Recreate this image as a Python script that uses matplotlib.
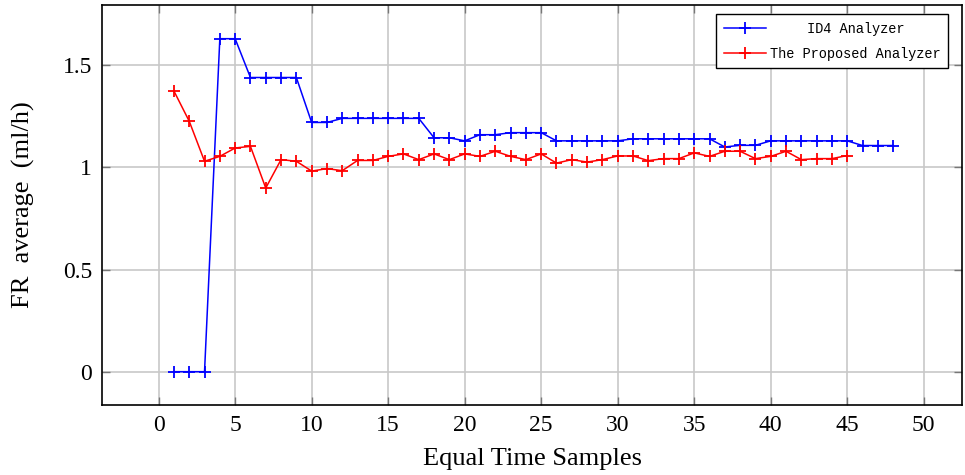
import matplotlib.pyplot as plt
import matplotlib.transforms as mtransforms

# Sample indices and the two analyzer series
id4_x = list(range(1, 49))
id4_y = [0, 0, 0, 1.63, 1.63, 1.44, 1.44, 1.44, 1.44, 1.22,
         1.22, 1.24, 1.24, 1.24, 1.24, 1.24, 1.24, 1.145, 1.145, 1.13,
         1.16, 1.16, 1.17, 1.17, 1.17, 1.13, 1.13, 1.13, 1.13, 1.13,
         1.14, 1.14, 1.14, 1.14, 1.14, 1.14, 1.10, 1.108, 1.108, 1.13,
         1.13, 1.13, 1.13, 1.13, 1.13, 1.107, 1.107, 1.107]

prop_x = list(range(1, 46))
prop_y = [1.374, 1.226, 1.03, 1.054, 1.095, 1.103, 0.899, 1.038, 1.03, 0.982,
          0.994, 0.984, 1.034, 1.034, 1.054, 1.066, 1.038, 1.066, 1.038, 1.066,
          1.054, 1.079, 1.054, 1.038, 1.066, 1.021, 1.038, 1.026, 1.038, 1.056,
          1.056, 1.033, 1.043, 1.043, 1.071, 1.054, 1.079, 1.079, 1.043, 1.054,
          1.079, 1.038, 1.043, 1.043, 1.058]

x_ticks = [0, 5, 10, 15, 20, 25, 30, 35, 40, 45, 50]
y_ticks = [0, 0.5, 1, 1.5]
y_tick_labels = ["0", "0.5", "1", "1.5"]

fig = plt.figure(figsize=(9.65, 4.75), dpi=100)
ax = fig.add_axes([0.1057, 0.1474, 0.8912, 0.8421])

ax.plot(id4_x, id4_y, color='blue', marker='+', markersize=8, mew=1.3,
        lw=1.1, label='ID4 Analyzer', zorder=3)
ax.plot(prop_x, prop_y, color='red', marker='+', markersize=8, mew=1.3,
        lw=1.1, label='The Proposed Analyzer', zorder=3)

ax.set_xlim(-3.7, 52.5)
ax.set_ylim(-0.163, 1.795)
ax.set_xticks(x_ticks)
ax.set_yticks(y_ticks)
ax.set_yticklabels(y_tick_labels)

ax.grid(True, color='#c8c8c8', lw=1.2)
ax.set_axisbelow(True)
ax.tick_params(direction='in', length=6, width=1, color='#777777',
               top=True, right=True, labelsize=17, pad=7)
for lab in ax.get_xticklabels() + ax.get_yticklabels():
    lab.set_family('Liberation Serif')
for sp in ax.spines.values():
    sp.set_linewidth(1.2)

ax.set_xlabel('Equal Time Samples', family='Liberation Serif', fontsize=19, labelpad=9)
ax.set_ylabel('FR  average  (ml/h)', family='Liberation Serif', fontsize=19, labelpad=20)

leg = ax.legend(loc='upper right', bbox_to_anchor=(0.9917, 0.9935),
                prop={'family': 'Liberation Mono', 'size': 9.8},
                fancybox=False, framealpha=1, edgecolor='black',
                handlelength=3.1, handletextpad=0.3, borderpad=0.55,
                labelspacing=0.8)
leg.get_frame().set_linewidth(1.0)
# centre the shorter entry like the reference legend
t0 = leg.get_texts()[0]
t0.set_transform(t0.get_transform() +
                 mtransforms.ScaledTranslation(0.37, 0, fig.dpi_scale_trans))

fig.savefig('out.png', dpi=100)
